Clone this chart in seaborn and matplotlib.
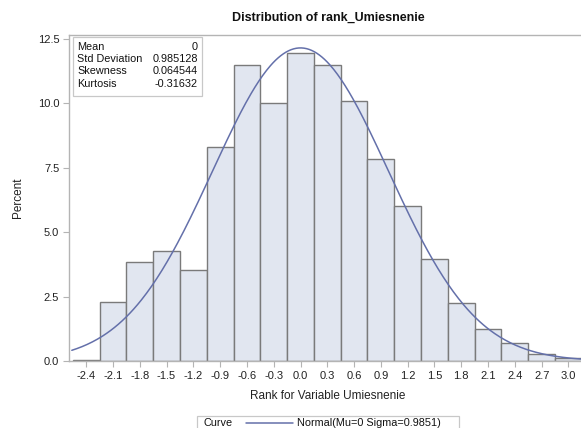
import numpy as np
import pandas as pd
import seaborn as sns
import matplotlib.pyplot as plt
from matplotlib.patches import Rectangle
from matplotlib.lines import Line2D

# Histogram bins (centres, width 0.3) and percentage of observations per bin
bin_centers = [-2.4, -2.1, -1.8, -1.5, -1.2, -0.9, -0.6, -0.3, 0.0, 0.3,
               0.6, 0.9, 1.2, 1.5, 1.8, 2.1, 2.4, 2.7, 3.0]
percents = [0.05, 2.30, 3.83, 4.26, 3.54, 8.30, 11.50, 10.03, 11.97, 11.50,
            10.07, 7.85, 6.00, 3.96, 2.25, 1.26, 0.71, 0.26, 0.13]
bin_width = 0.3

# Fitted normal parameters and moment summary
mu, sigma = 0.0, 0.985128
stat_names = ["Mean", "Std Deviation", "Skewness", "Kurtosis"]
stat_values = ["0", "0.985128", "0.064544", "-0.31632"]

x_ticks = [-2.4, -2.1, -1.8, -1.5, -1.2, -0.9, -0.6, -0.3, 0.0, 0.3,
           0.6, 0.9, 1.2, 1.5, 1.8, 2.1, 2.4, 2.7, 3.0]
y_ticks = [0.0, 2.5, 5.0, 7.5, 10.0, 12.5]

sns.set_theme(style="white")
plt.rcParams["font.family"] = ["Liberation Sans", "DejaVu Sans"]
plt.rcParams["axes.unicode_minus"] = False

W, H = 581, 428
fig = plt.figure(figsize=(W / 100, H / 100), dpi=100)

def fx(px):
    return px / W

def fy(py):
    return 1 - py / H

ax_left, ax_right, ax_top, ax_bottom = 69, 581, 35, 361
ax = fig.add_axes([fx(ax_left), fy(ax_bottom), fx(ax_right - ax_left),
                   (ax_bottom - ax_top) / H])

fill = "#E1E6F0"
edge = "#7A7A7A"
curve_col = "#6470AA"
frame = "#B4B4B4"

edges = [c - bin_width / 2 for c in bin_centers] + [bin_centers[-1] + bin_width / 2]
df = pd.DataFrame({"rank": bin_centers, "pct": percents})
sns.histplot(data=df, x="rank", weights="pct", bins=edges, stat="count",
             color=fill, edgecolor=edge, linewidth=1.0, alpha=1.0, ax=ax)

# Normal density curve scaled to percent per bin
xs = np.linspace(-2.56, 3.2, 400)
ys = 100 * bin_width * np.exp(-0.5 * ((xs - mu) / sigma) ** 2) / (sigma * np.sqrt(2 * np.pi))
sns.lineplot(x=xs, y=ys, color=curve_col, linewidth=1.1, ax=ax)

xmin = -2.4 - (86.1 - ax_left) / 89.33
xmax = 3.0 + (ax_right - 568.5) / 89.33
ax.set_xlim(xmin, xmax)
ax.set_ylim(0, 12.65)
ax.set_xticks(x_ticks)
ax.set_xticklabels([f"{t:.1f}" for t in x_ticks])
ax.set_yticks(y_ticks)
ax.set_yticklabels([f"{t:.1f}" for t in y_ticks])
ax.tick_params(axis="both", which="both", direction="out", length=4, width=0.8,
               color=frame, labelsize=8, labelcolor="#222222", pad=3,
               bottom=True, left=True)
for side in ["left", "bottom", "top"]:
    ax.spines[side].set_visible(True)
    ax.spines[side].set_color(frame)
    ax.spines[side].set_linewidth(1.0)
ax.spines["right"].set_visible(False)
ax.set_xlabel("")
ax.set_ylabel("Percent", fontsize=8.5, color="#222222", labelpad=10)

# Title and x-axis label centred on the plot column
fig.text(fx(328), fy(18), "Distribution of rank_Umiesnenie", ha="center",
         va="center", fontsize=9, fontweight="bold", color="#111111")
fig.text(fx(328), fy(396), "Rank for Variable Umiesnenie", ha="center",
         va="center", fontsize=8.5, color="#222222")

# Moments inset
fig.patches.append(Rectangle((fx(73), fy(96)), fx(202 - 73), (96 - 37) / H,
                             transform=fig.transFigure, facecolor="white",
                             edgecolor="#C8C8C8", linewidth=0.9, zorder=5))
for i, (name, val) in enumerate(zip(stat_names, stat_values)):
    yy = fy(46.5 + i * 12.4)
    fig.text(fx(77), yy, name, ha="left", va="center", fontsize=7.8,
             color="#111111", zorder=6)
    fig.text(fx(198), yy, val, ha="right", va="center", fontsize=7.8,
             color="#111111", zorder=6)

# Curve legend at the bottom
fig.patches.append(Rectangle((fx(197), fy(432)), fx(459 - 197), (432 - 416) / H,
                             transform=fig.transFigure, facecolor="white",
                             edgecolor="#C8C8C8", linewidth=0.9, zorder=5))
fig.text(fx(203), fy(423), "Curve", ha="left", va="center", fontsize=7.8,
         color="#111111", zorder=6)
fig.lines.append(Line2D([fx(246), fx(293)], [fy(423), fy(423)],
                        transform=fig.transFigure, color=curve_col,
                        linewidth=1.1, zorder=6))
fig.text(fx(297), fy(423), "Normal(Mu=0 Sigma=0.9851)", ha="left",
         va="center", fontsize=7.8, color="#111111", zorder=6)

fig.savefig("out.png", dpi=100)
